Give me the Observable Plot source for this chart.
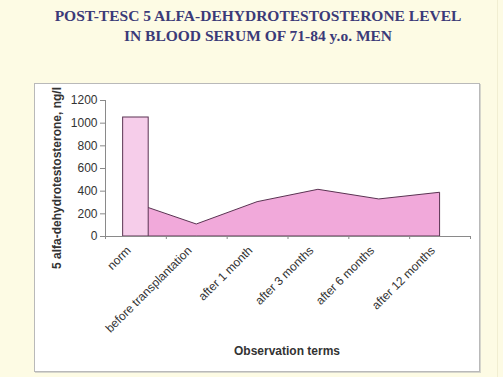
<!DOCTYPE html>
<html>
<head>
<meta charset="utf-8">
<script src="https://cdn.jsdelivr.net/npm/d3@7"></script>
<script src="https://cdn.jsdelivr.net/npm/@observablehq/plot@0.6"></script>
<style>
  html, body { margin: 0; padding: 0; }
  body { width: 503px; height: 377px; background: #fdfbe4; position: relative; overflow: hidden; font-family: "Liberation Sans", Arial, sans-serif; }
  #title { position: absolute; left: 0; top: 6px; width: 516px; text-align: center; font-family: "Liberation Serif", "Times New Roman", serif; font-weight: bold; font-size: 15.5px; line-height: 19.5px; color: #3b3a78; }
  #box { position: absolute; left: 34px; top: 83px; width: 444px; height: 287px; background: #fff; border: 1px solid #b9b9b9; box-shadow: 1px 1px 0 #d6d6cc; }
  #edge { position: absolute; left: 497px; top: 0; width: 1px; height: 377px; background: #f1eed2; }
  #chart { position: absolute; left: 0; top: 0; }
  #ytitle { position: absolute; left: 57px; top: 178px; transform: translate(-50%, -50%) rotate(-90deg); white-space: nowrap; font-weight: bold; font-size: 12px; color: #333; }
  #xtitle { position: absolute; left: 287px; top: 351px; transform: translate(-50%, -50%); white-space: nowrap; font-weight: bold; font-size: 12px; color: #333; }
</style>
</head>
<body>
<div id="edge"></div>
<div id="title">POST-TESC 5 ALFA-DEHYDROTESTOSTERONE LEVEL<br>IN BLOOD SERUM OF 71-84 y.o. MEN</div>
<div id="box"></div>
<div id="chart"></div>
<div id="ytitle">5 alfa-dehydrotestosterone, ng/l</div>
<div id="xtitle">Observation terms</div>
<script>
// Data
const categories = ["norm", "before transplantation", "after 1 month", "after 3 months", "after 6 months", "after 12 months"];
const normValue = [1050];               // bar at "norm"
const levels = [290, 106, 303, 412, 327, 386]; // area series (first point hidden behind norm bar)
const yTicks = [0, 200, 400, 600, 800, 1000, 1200];

const areaData = levels.map((v, i) => ({i, v}));
const barData = normValue.map((v, i) => ({i, v}));
const boundaries = d3.range(categories.length + 1).map(k => k - 0.5);

const chart = Plot.plot({
  width: 503,
  height: 377,
  marginLeft: 105,
  marginRight: 33,
  marginTop: 100,
  marginBottom: 141,
  style: {background: "transparent", fontFamily: "Liberation Sans, Arial, sans-serif", color: "#333"},
  x: {type: "linear", domain: [-0.5, categories.length - 0.5], axis: null},
  y: {domain: [0, 1200], axis: null},
  marks: [
    Plot.areaY(areaData, {x: "i", y: "v", fill: "#f1a9da", stroke: "#5a3352", strokeWidth: 1}),
    Plot.rectY(barData, {x1: d => d.i - 0.21, x2: d => d.i + 0.21, y: "v", fill: "#f6cdea", stroke: "#5a3352", strokeWidth: 1}),
    Plot.ruleX([-0.5], {y1: 0, y2: 1200, stroke: "#8a8a8a"}),
    Plot.ruleY([0], {stroke: "#8a8a8a"}),
    Plot.axisY({ticks: yTicks, tickSize: 5, tickPadding: 3, fontSize: 12, tickFormat: d => String(d), label: null, stroke: "#8a8a8a", color: "#333"}),
    Plot.axisX({ticks: boundaries, tickSize: 3, tickFormat: () => "", label: null, stroke: "#8a8a8a"}),
    Plot.text(categories, {x: (d, i) => i, y: () => 0, text: d => d, rotate: -45, textAnchor: "end", dx: -7, dy: 12, fontSize: 12, fill: "#333"})
  ]
});
document.getElementById("chart").appendChild(chart);
</script>
</body>
</html>
